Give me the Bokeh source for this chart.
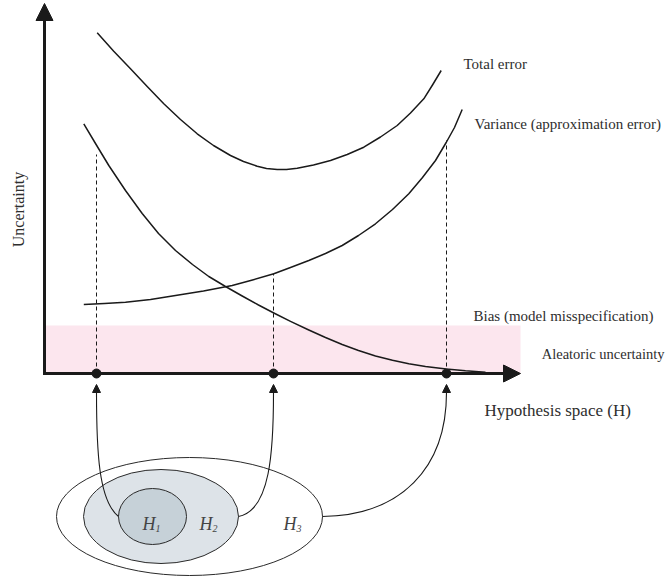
from bokeh.plotting import figure
from bokeh.models import Range1d, Arrow, NormalHead
from bokeh.core.properties import value
from bokeh.embed import file_html
from bokeh.resources import INLINE
import math

# ---- data (x: position in hypothesis space, y: uncertainty) ----
total_x = [52.7, 69, 86, 102.7, 119.3, 136, 152.7, 169, 186, 199, 212.7, 222, 232.7,
           242, 252.7, 269, 286, 302.7, 319.3, 336, 352.7, 366, 379.3, 388, 396.7]
total_y = [340.7, 322.5, 304.7, 287, 269.7, 254, 239.7, 228, 218, 212, 207.3, 205, 204,
           204, 205.3, 208.5, 213, 219, 226.3, 236.5, 248, 260.5, 274.7, 288.5, 303]

var_x = [39.3, 60, 81, 106, 131, 159, 187.7, 208, 229.3, 246, 264.3, 281, 297.7,
         314, 331, 348, 364.3, 378, 391, 401.7, 410, 417.7]
var_y = [69, 70, 71.3, 74, 78, 82.5, 88, 93.5, 99.7, 106, 113, 120, 128,
         138, 149.7, 164, 179.7, 196, 213, 231, 246, 264]

bias_x = [39.3, 51, 64.3, 81, 97.7, 114, 131, 148, 164.3, 181, 197.7, 214, 229.3,
          246, 264.3, 281, 297.7, 314, 331, 348, 364.3, 381, 401.7, 421, 441]
bias_y = [249.7, 230, 208, 183, 160, 140, 123, 109, 97, 87, 77.5, 68.5, 60.5,
          52.2, 43.5, 36, 29, 23, 17.5, 13.2, 9.7, 7, 4.5, 2.7, 1.3]

aleatoric_level = 48
axis_x_max = 476
axis_y_max = 370

# hypothesis classes H1, H2, H3 and their positions on the x axis
h_names = ["1", "2", "3"]
h_positions = [52, 229, 402]
h_dash_tops = [219, 100, 233]

# nested hypothesis sets (ellipses): centre x, centre y, width, height
ell_cx = [145, 116.5, 108]
ell_cy = [-143, -143, -143]
ell_w = [266, 155, 68]
ell_h = [118, 94, 56]
ell_fill = ["#ffffff", "#dde3e8", "#c6d1d8"]

# connecting arrows (cubic bezier): start, control1, control2, end
arr_x0 = [74, 194, 278]
arr_y0 = [-143, -143, -143]
arr_cx0 = [54, 226, 356]
arr_cy0 = [-127, -137, -142]
arr_cx1 = [52, 229, 402]
arr_cy1 = [-77, -77, -95]

labels = ["Total error", "Variance (approximation error)",
          "Bias (model misspecification)"]
label_x = [419, 430, 429]
label_y = [310, 250, 58]
aleatoric_label = "Aleatoric uncertainty"

h_label_x = [98, 155, 239]
h_label_y = [-150, -150, -150]

FONT = value("Liberation Serif")
INK = "#1a1a1a"
TXT = "#2e2e2e"

W, H = 668, 581
p = figure(width=W, height=H, output_backend="svg", toolbar_location=None,
           x_range=Range1d(-44, -44 + W), y_range=Range1d(373 - H, 373),
           min_border=0, outline_line_color=None)
p.xaxis.visible = False
p.yaxis.visible = False
p.xgrid.visible = False
p.ygrid.visible = False
p.background_fill_color = "white"
p.border_fill_color = "white"

# aleatoric band
p.quad(left=[0], right=[axis_x_max], bottom=[0], top=[aleatoric_level],
       fill_color="#fce6ee", line_color=None)

# dashed verticals
p.segment(x0=h_positions, y0=[0] * 3, x1=h_positions, y1=h_dash_tops,
          line_color=INK, line_width=1, line_dash="4 3")

# curves
p.line(total_x, total_y, line_color=INK, line_width=1.5, line_join="round")
p.line(var_x, var_y, line_color=INK, line_width=1.5, line_join="round")
p.line(bias_x, bias_y, line_color=INK, line_width=1.5, line_join="round")

# axes
p.add_layout(Arrow(end=NormalHead(size=17, fill_color=INK, line_color=INK),
                   x_start=0, y_start=-1.5, x_end=0, y_end=axis_y_max,
                   line_color=INK, line_width=3))
p.add_layout(Arrow(end=NormalHead(size=17, fill_color=INK, line_color=INK),
                   x_start=-1.5, y_start=0, x_end=axis_x_max, y_end=0,
                   line_color=INK, line_width=3))

# points on x axis
p.scatter(h_positions, [0] * 3, size=9, color=INK)

# ellipses
p.ellipse(x=ell_cx, y=ell_cy, width=ell_w, height=ell_h,
          fill_color=ell_fill, line_color="#2a2a2a", line_width=1)

# connecting arrows
p.bezier(x0=arr_x0, y0=arr_y0, x1=h_positions, y1=[-19] * 3,
         cx0=arr_cx0, cy0=arr_cy0, cx1=arr_cx1, cy1=arr_cy1,
         line_color=INK, line_width=1.1)
for hx in h_positions:
    p.add_layout(Arrow(end=NormalHead(size=8, fill_color=INK, line_color=INK),
                       x_start=hx, y_start=-20, x_end=hx, y_end=-11,
                       line_color=INK, line_width=1))

# labels
p.text(x=label_x, y=label_y, text=labels, text_font=FONT, text_font_size="15px",
       text_color=TXT, text_baseline="middle", text_align="left")
p.text(x=[620], y=[20], text=[aleatoric_label], text_font=FONT, text_font_size="14.5px",
       text_color=TXT, text_baseline="middle", text_align="right")
p.text(x=[440], y=[-37], text=["Hypothesis space (H)"], text_font=FONT,
       text_font_size="17px", text_color=TXT, text_baseline="middle")
p.text(x=[-26], y=[164], text=["Uncertainty"], text_font=FONT, text_font_size="16px",
       text_color=TXT, text_baseline="middle", text_align="center", angle=math.pi / 2)

p.text(x=h_label_x, y=h_label_y, text=["H"] * 3, text_font=FONT,
       text_font_size="18px", text_font_style="italic", text_color="#444444",
       text_baseline="alphabetic", text_align="left")
p.text(x=[v + 13 for v in h_label_x], y=[v - 5 for v in h_label_y], text=h_names,
       text_font=FONT, text_font_size="10px", text_font_style="italic",
       text_color="#444444", text_baseline="alphabetic", text_align="left")

open("out.html", "w").write(file_html(p, INLINE))
